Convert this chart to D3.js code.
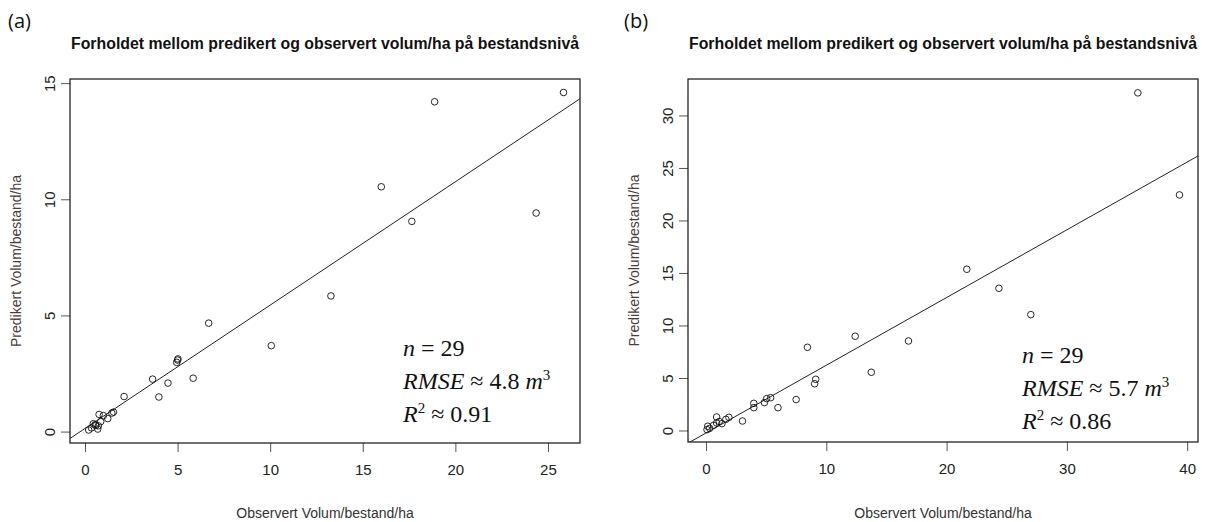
<!DOCTYPE html>
<html>
<head>
<meta charset="utf-8">
<script src="https://cdn.jsdelivr.net/npm/d3@7"></script>
<style>
body { margin: 0; background: #fff; }
svg text { font-family: "Liberation Sans Narrow", "Liberation Sans", Arial, sans-serif; }
</style>
</head>
<body>
<div id="chart-area"></div>
<script>
// Panel (a)
var obsA = [25.84, 18.88, 16.0, 17.65, 24.36, 13.28, 10.06, 6.68, 4.95, 5.0, 5.02, 3.65, 4.48, 5.84, 2.11, 3.99,
	1.54, 1.45, 0.76, 0.99, 1.23, 0.45, 0.58, 0.72, 0.69, 0.2, 0.55, 0.85, 0.35];
var predA = [14.62, 14.22, 10.56, 9.07, 9.43, 5.86, 3.72, 4.69, 3.0, 3.1, 3.15, 2.28, 2.11, 2.32, 1.53, 1.51,
	0.86, 0.82, 0.76, 0.71, 0.58, 0.36, 0.28, 0.27, 0.13, 0.09, 0.32, 0.45, 0.18];
var fitA = [0.156, 0.531]; // intercept, slope
var xTicksA = [0, 5, 10, 15, 20, 25];
var yTicksA = [0, 5, 10, 15];
var statsA = ["29", "4.8", "0.91"];

// Panel (b)
var obsB = [35.9, 39.36, 21.68, 24.35, 27.0, 16.83, 12.4, 8.43, 13.74, 9.12, 9.03, 7.49, 5.98, 5.37, 5.04, 4.85,
	3.97, 3.97, 3.03, 1.9, 1.65, 0.88, 1.32, 0.88, 0.63, 0.14, 0.08, 1.1, 0.3];
var predB = [32.2, 22.48, 15.4, 13.59, 11.08, 8.57, 9.02, 7.97, 5.59, 4.92, 4.5, 2.99, 2.22, 3.17, 3.08, 2.7,
	2.63, 2.22, 0.95, 1.3, 1.11, 1.33, 0.7, 0.76, 0.54, 0.45, 0.13, 0.9, 0.25];
var fitB = [-0.19, 0.645];
var xTicksB = [0, 10, 20, 30, 40];
var yTicksB = [0, 5, 10, 15, 20, 25, 30];
var statsB = ["29", "5.7", "0.86"];

var title = "Forholdet mellom predikert og observert volum/ha på bestandsnivå";

var svg = d3.select("#chart-area")
			.append("svg")
			.attr("width", 1207)
			.attr("height", 522);

function panel(opt){
	var x = d3.scaleLinear().domain(opt.xDom).range([opt.left, opt.right]);
	var y = d3.scaleLinear().domain(opt.yDom).range([opt.bottom, opt.top]);
	var g = svg.append("g");

	// label (a)/(b)
	g.append("text")
		.attr("x", opt.tagX)
		.attr("y", 28)
		.style("font-family", "'Open Sans', 'Liberation Sans', sans-serif")
		.style("font-size", "20px")
		.attr("fill", "#111")
		.text(opt.tag);

	g.append("text")
		.attr("x", (opt.left + opt.right) / 2)
		.attr("y", 49)
		.attr("text-anchor", "middle")
		.attr("textLength", opt.right - opt.left - 2)
		.attr("lengthAdjust", "spacingAndGlyphs")
		.style("font-size", "16px")
		.style("font-weight", "bold")
		.attr("fill", "#111")
		.text(title);

	// axes
	var xAxis = g.append("g")
		.attr("transform", "translate(0," + opt.bottom + ")")
		.call(d3.axisBottom(x).tickValues(opt.xTicks).tickSize(9).tickPadding(9).tickSizeOuter(0));
	var yAxis = g.append("g")
		.attr("transform", "translate(" + opt.left + ",0)")
		.call(d3.axisLeft(y).tickValues(opt.yTicks).tickSize(9).tickSizeOuter(0));
	[xAxis, yAxis].forEach(function(a){
		a.select(".domain").remove();
		a.selectAll("line").attr("stroke", "#555");
		a.selectAll("text").style("font-size", "15px").attr("fill", "#222")
			.style("font-family", "'Liberation Sans Narrow', 'Liberation Sans', sans-serif");
	});
	xAxis.selectAll("text").attr("dy", "0.9em");
	yAxis.selectAll("text")
		.attr("text-anchor", "middle")
		.attr("transform", function(d){
			return "translate(" + (-20) + "," + y(d) + ") rotate(-90)";
		})
		.attr("x", 0).attr("y", 0).attr("dy", "0.35em");
	yAxis.selectAll(".tick").attr("transform", null);
	yAxis.selectAll(".tick line").attr("y1", function(d){ return y(d); }).attr("y2", function(d){ return y(d); });

	// box
	g.append("rect")
		.attr("x", opt.left).attr("y", opt.top)
		.attr("width", opt.right - opt.left).attr("height", opt.bottom - opt.top)
		.attr("fill", "none").attr("stroke", "#111").attr("stroke-width", 1.2);

	// axis titles
	g.append("text")
		.attr("x", (opt.left + opt.right) / 2)
		.attr("y", 518)
		.attr("text-anchor", "middle")
		.style("font-size", "14px")
		.attr("fill", "#333")
		.text("Observert Volum/bestand/ha");
	g.append("text")
		.attr("transform", "translate(" + opt.yLabX + "," + ((opt.top + opt.bottom) / 2) + ") rotate(-90)")
		.attr("text-anchor", "middle")
		.attr("dy", "0.35em")
		.style("font-size", "14px")
		.attr("fill", "#4a3c3a")
		.text("Predikert Volum/bestand/ha");

	// regression line
	var clipId = "clip" + opt.tag.replace(/\W/g, "");
	svg.append("clipPath").attr("id", clipId)
		.append("rect")
		.attr("x", opt.left).attr("y", opt.top)
		.attr("width", opt.right - opt.left).attr("height", opt.bottom - opt.top);
	var xs = x.domain();
	g.append("line")
		.attr("clip-path", "url(#" + clipId + ")")
		.attr("x1", x(xs[0])).attr("y1", y(opt.fit[0] + opt.fit[1] * xs[0]))
		.attr("x2", x(xs[1])).attr("y2", y(opt.fit[0] + opt.fit[1] * xs[1]))
		.attr("stroke", "#222").attr("stroke-width", 1);

	// points
	g.selectAll("circle")
		.data(opt.obs)
		.enter()
		.append("circle")
		.attr("cx", function(d){ return x(d); })
		.attr("cy", function(d, i){ return y(opt.pred[i]); })
		.attr("r", 3.3)
		.attr("fill", "none")
		.attr("stroke", "#111")
		.attr("stroke-width", 0.9);

	// stats
	var st = g.append("text")
		.attr("x", opt.statX)
		.attr("y", opt.statY)
		.style("font-family", "'Liberation Serif', 'DejaVu Serif', serif")
		.style("font-size", "24px")
		.attr("fill", "#111");
	var l1 = st.append("tspan").attr("x", opt.statX).attr("dy", 0);
	l1.append("tspan").style("font-style", "italic").text("n");
	l1.append("tspan").text(" = " + opt.stats[0]);
	var l2 = st.append("tspan").attr("x", opt.statX).attr("dy", 33);
	l2.append("tspan").style("font-style", "italic").text("RMSE");
	l2.append("tspan").text(" ≈ " + opt.stats[1] + " ");
	l2.append("tspan").style("font-style", "italic").text("m");
	l2.append("tspan").attr("dy", -9).style("font-size", "15px").text("3");
	var l3 = st.append("tspan").attr("x", opt.statX).attr("dy", 42);
	l3.append("tspan").style("font-style", "italic").text("R");
	l3.append("tspan").attr("dy", -9).style("font-size", "15px").text("2");
	l3.append("tspan").attr("dy", 9).text(" ≈ " + opt.stats[2]);
}

panel({
	tag: "(a)", tagX: 8,
	left: 70, right: 580, top: 79, bottom: 443,
	xDom: [-0.81, 26.73], yDom: [-0.47, 15.2],
	xTicks: xTicksA, yTicks: yTicksA,
	obs: obsA, pred: predA, fit: fitA, stats: statsA,
	statX: 403, statY: 356, yLabX: 16
});

panel({
	tag: "(b)", tagX: 624,
	left: 688, right: 1198, top: 79, bottom: 442,
	xDom: [-1.5, 40.9], yDom: [-1.05, 33.52],
	xTicks: xTicksB, yTicks: yTicksB,
	obs: obsB, pred: predB, fit: fitB, stats: statsB,
	statX: 1022, statY: 363, yLabX: 634
});
</script>
</body>
</html>
